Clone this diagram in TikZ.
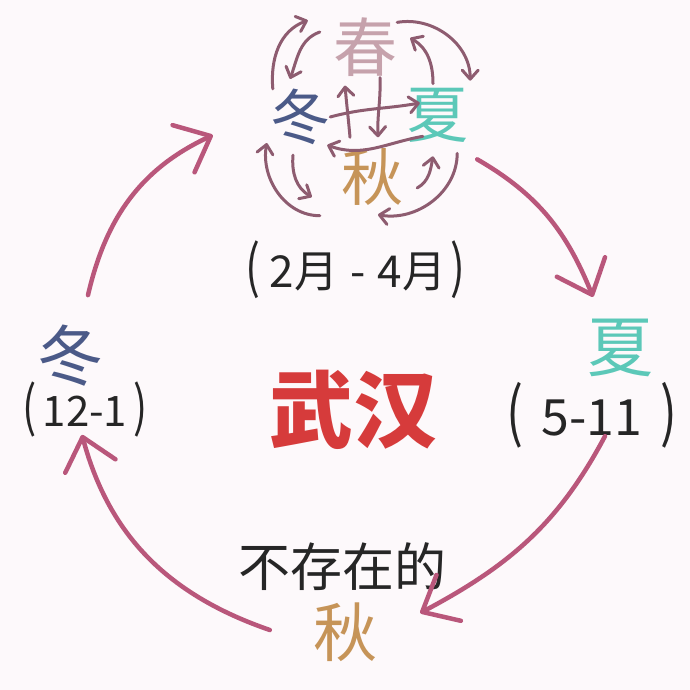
\documentclass[tikz,border=0pt]{standalone}
\usepackage{fontspec}
\newfontfamily\cjk{Noto Sans CJK SC}
\usetikzlibrary{arrows.meta}
\definecolor{bg}{HTML}{FDF9FB}
\definecolor{chunc}{HTML}{C6A2AC}
\definecolor{dongc}{HTML}{4B5A88}
\definecolor{xiac}{HTML}{5CC8B8}
\definecolor{qiuc}{HTML}{C69458}
\definecolor{bigc}{HTML}{B9577B}
\definecolor{smallc}{HTML}{8E5C70}
\definecolor{wuhanc}{HTML}{D63B3B}
\newcommand{\lp}{\scalebox{1}[1.3]{(}}
\newcommand{\rp}{\scalebox{1}[1.3]{)}}
\begin{document}
\begin{tikzpicture}[x=1pt,y=1pt,
  season/.style={inner sep=0pt,font=\cjk\fontsize{#1}{#1}\selectfont},
  hand/.style={inner sep=0pt,text=black!85,font=\cjk\fontsize{#1}{#1}\selectfont},
  big/.style={draw=bigc,line width=4.5pt,line cap=round,-{Straight Barb[length=30pt,width=52pt,round]}},
  small/.style={draw=smallc,line width=3pt,line cap=round,-{Straight Barb[length=9pt,width=16pt,round]}}]
\fill[bg] (0,0) rectangle (690,690);
\useasboundingbox (0,0) rectangle (690,690);

% the four seasons in spring
\node (chun) at (365,643) [season=64,text=chunc] {春};
\node (dongA) at (300,573) [season=60,text=dongc] {冬};
\node (xiaA) at (437,575) [season=62,text=xiac] {夏};
\node (qiuA) at (372,513) [season=62,text=qiuc] {秋};
\node (spring) at (355,420) [hand=44] {\lp\hspace{10pt}2月\hspace{12pt}-\hspace{12pt}4月\hspace{4pt}\rp};

% the big cycle
\node (dongB) at (70,334) [season=66,text=dongc] {冬};
\node (dec) at (85,280) [hand=42] {\lp\hspace{6pt}12-1\hspace{6pt}\rp};
\node (xiaB) at (620,342) [season=66,text=xiac] {夏};
\node (may) at (592,275) [hand=50] {\lp\hspace{18pt}5-11\hspace{18pt}\rp};
\node (wuhan) at (353,280) [season=84,text=wuhanc,font=\cjk\bfseries\fontsize{84}{84}\selectfont] {武汉};
\node (none) at (342,123) [hand=52] {不存在的};
\node (qiuB) at (345,58) [season=64,text=qiuc] {秋};

\draw[big] ([shift={(9,-17)}]xiaA.south east) to[out=-30,in=112] ([shift={(-27,22)}]xiaB.north);
\draw[big] ([shift={(13,12)}]may.south) to[out=-118,in=28] ([shift={(43,19)}]qiuB.east);
\draw[big] ([shift={(-43,2)}]qiuB.west) to[out=161,in=-75] ([shift={(-3,3)}]dec.south);
\draw[big] ([shift={(18,30)}]dongB.north) to[out=77,in=205] ([shift={(-57,10)}]dongA.south west);

%\draw[small] (chun) to (dongA);
\draw[small] ([shift={(3,0)}]dongA.north west) to[out=95,in=200] ([shift={(-25,-3)}]chun.north west);
\draw[small] ([shift={(-13,15)}]chun.west) to[out=200,in=70] ([shift={(-10,10)}]dongA.north);
\draw[small] ([shift={(0,-5)}]chun.north east) to[out=10,in=90] ([shift={(2,7)}]xiaA.north east);
\draw[small] ([shift={(-4,4)}]xiaA.north) to[out=90,in=-30] ([shift={(13,9)}]chun.east);
\draw[small] ([shift={(-22,11)}]qiuA.north) to[out=95,in=-85] ([shift={(-20,-9)}]chun.south);
\draw[small] ([shift={(15,-1)}]chun.south) to[out=-88,in=92] ([shift={(6,11)}]qiuA.north);
\draw[small] (dongA.east) to[out=15,in=190] ([shift={(14,12)}]xiaA.west);
\draw[small] ([shift={(17,6)}]xiaA.south west) to[out=190,in=-20] ([shift={(-3,0)}]dongA.south east);
\draw[small] ([shift={(-21,-10)}]qiuA.south west) to[out=180,in=-100] ([shift={(-3,2)}]dongA.south west);
\draw[small] ([shift={(-7,-10)}]dongA.south) to[out=-95,in=150] ([shift={(-29,-20)}]qiuA.west);
\draw[small] ([shift={(-11,-11)}]xiaA.south east) to[out=-90,in=-10] ([shift={(6,-9)}]qiuA.south);
\draw[small] ([shift={(14,-11)}]qiuA.east) to[out=30,in=-100] ([shift={(-4,-14)}]xiaA.south);
\end{tikzpicture}
\end{document}
